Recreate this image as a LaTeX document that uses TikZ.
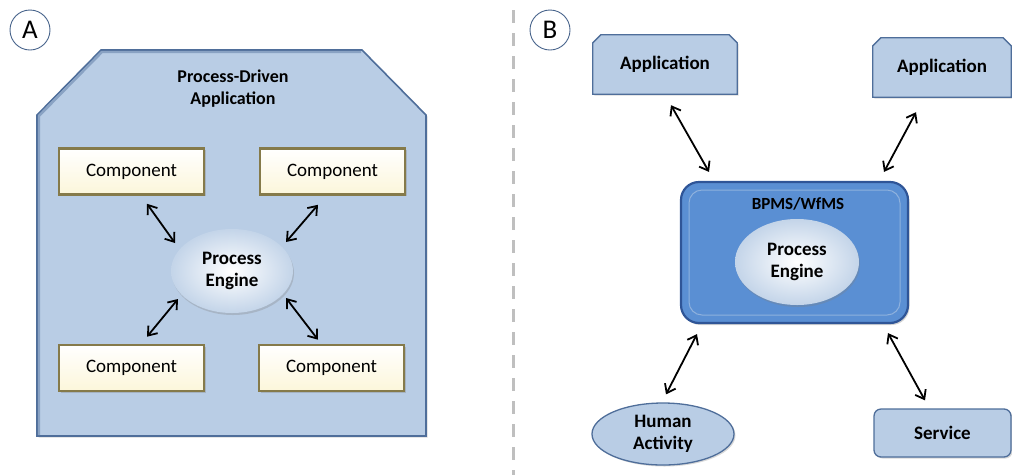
\documentclass[tikz,border=0pt]{standalone}
\usepackage{fontspec}
\setmainfont{Carlito}
\usetikzlibrary{shapes.geometric,arrows.meta,shadows,backgrounds}
\definecolor{lblue}{HTML}{B9CDE5}
\definecolor{bedge}{HTML}{4F6E9A}
\definecolor{mblue}{HTML}{5A8FD3}
\definecolor{dblue}{HTML}{2F5597}
\definecolor{cream}{HTML}{FCF6DA}
\definecolor{olive}{HTML}{857A4A}
\tikzset{
  lbl/.style={circle,draw=bedge!90!black,line width=0.9pt,minimum size=40pt,inner sep=0pt,font=\fontsize{27}{27}\selectfont},
  comp/.style={rectangle,draw=olive,line width=2.6pt,top color=white,bottom color=cream,minimum width=145pt,minimum height=46pt,inner sep=0pt,font=\fontsize{19}{22}\selectfont,drop shadow={shadow xshift=1.5pt,shadow yshift=-1.5pt,opacity=.35}},
  engine/.style={ellipse,draw=none,inner color=white,outer color=lblue!85!white,minimum width=122pt,minimum height=84pt,inner sep=0pt,align=center,font=\bfseries\fontsize{19}{22}\selectfont,drop shadow={shadow xshift=1pt,shadow yshift=-2pt,opacity=.3}},
  apptext/.style={rectangle,inner sep=0pt,font=\bfseries\fontsize{19}{22}\selectfont},
  appshape/.style={fill=lblue,draw=bedge,line width=1.3pt,drop shadow={shadow xshift=1.5pt,shadow yshift=-1.5pt,opacity=.3}},
  svbox/.style={rectangle,rounded corners=7pt,fill=lblue,draw=bedge,line width=1.3pt,inner sep=0pt,font=\bfseries\fontsize{19}{22}\selectfont,drop shadow={shadow xshift=1.5pt,shadow yshift=-1.5pt,opacity=.3}},
  arr/.style={{Straight Barb[length=8pt,width=12pt]}-{Straight Barb[length=8pt,width=12pt]},line width=1.8pt,black}
}
\begin{document}
\begin{tikzpicture}[x=1pt,y=-1pt]
\useasboundingbox (0,0) rectangle (1012,475);
% separator
\draw[black!25,line width=3pt,dash pattern=on 13pt off 10pt] (513,10) -- (513,475);
% ---------- A ----------
\node[lbl] (la) at (30,30) {A};
\path[fill=lblue,draw=bedge,line width=1.6pt,drop shadow={shadow xshift=1.5pt,shadow yshift=-1.5pt,opacity=.3}]
  (37,115) -- (101,50) -- (362,50) -- (426,115) -- (426,436) -- (37,436) -- cycle;
\draw[bedge!45!lblue,line width=2.4pt] (39,435) -- (39,116) -- (102,52) -- (361,52);
\node[align=center,font=\bfseries\fontsize{18}{22}\selectfont] (title) at (233,89) {Process-Driven\\Application};
\node[comp] (c1) at (131.5,171.5) {Component};
\node[comp] (c2) at (332.5,171.5) {Component};
\node[comp] (c3) at (131.5,368) {Component};
\node[comp] (c4) at (331.5,368) {Component};
\node[engine] (pe) at (232,271) {Process\\Engine};
\draw[arr] ([xshift=15.5pt,yshift=-8pt]c1.south) -- ([xshift=-57pt,yshift=28pt]pe.center);
\draw[arr] ([xshift=-14.5pt,yshift=-9pt]c2.south) -- ([xshift=54pt,yshift=29pt]pe.center);
\draw[arr] ([xshift=15.5pt,yshift=7pt]c3.north) -- ([xshift=-54pt,yshift=-28pt]pe.center);
\draw[arr] ([xshift=-13.5pt,yshift=4pt]c4.north) -- ([xshift=54pt,yshift=-27pt]pe.center);
% ---------- B ----------
\node[lbl] (lb) at (550,30) {B};
\node[apptext,minimum width=144pt,minimum height=59pt] (app1) at (665,64.5) {Application};
\node[apptext,minimum width=138pt,minimum height=59pt] (app2) at (942,67.5) {Application};
\begin{scope}[on background layer]
  \foreach \a in {app1,app2}{
    \path[appshape] (\a.south west) -- ([yshift=-8pt]\a.north west) -- ([xshift=8pt]\a.north west)
      -- ([xshift=-8pt]\a.north east) -- ([yshift=-8pt]\a.north east) -- (\a.south east) -- cycle;
  }
\end{scope}
\node[rectangle,rounded corners=18pt,fill=mblue,draw=dblue,line width=2.2pt,minimum width=227pt,minimum height=141pt,drop shadow={shadow xshift=1.5pt,shadow yshift=-2pt,opacity=.35}] (bp) at (794.5,252.5) {};
\node[rectangle,rounded corners=13pt,draw=lblue!55!mblue,line width=1pt,minimum width=211pt,minimum height=125pt] (bpin) at (794.5,252.5) {};
\node[font=\bfseries\fontsize{17}{20}\selectfont] (bpt) at (798,204) {BPMS/WfMS};
\node[engine,minimum width=124pt,minimum height=86pt] (pe2) at (797,262) {Process\\Engine};
\node[ellipse,fill=lblue,draw=bedge,line width=1.3pt,minimum width=142pt,minimum height=62pt,inner sep=0pt,align=center,font=\bfseries\fontsize{19}{22}\selectfont,drop shadow={shadow xshift=1.5pt,shadow yshift=-1.5pt,opacity=.3}] (ha) at (663,434) {Human\\Activity};
\node[svbox,minimum width=137pt,minimum height=48pt] (sv) at (942.5,433) {Service};
\draw[arr] ([xshift=6pt,yshift=-11pt]app1.south) -- ([xshift=-85.5pt,yshift=9pt]bp.north);
\draw[arr] ([xshift=-26pt,yshift=-15pt]app2.south) -- ([xshift=89.5pt,yshift=9pt]bp.north);
\draw[arr] ([xshift=-97.5pt,yshift=-10pt]bp.south) -- ([xshift=3pt,yshift=8pt]ha.north);
\draw[arr] ([xshift=93.5pt,yshift=-9pt]bp.south) -- ([xshift=-17.5pt,yshift=8pt]sv.north);
\end{tikzpicture}
\end{document}
